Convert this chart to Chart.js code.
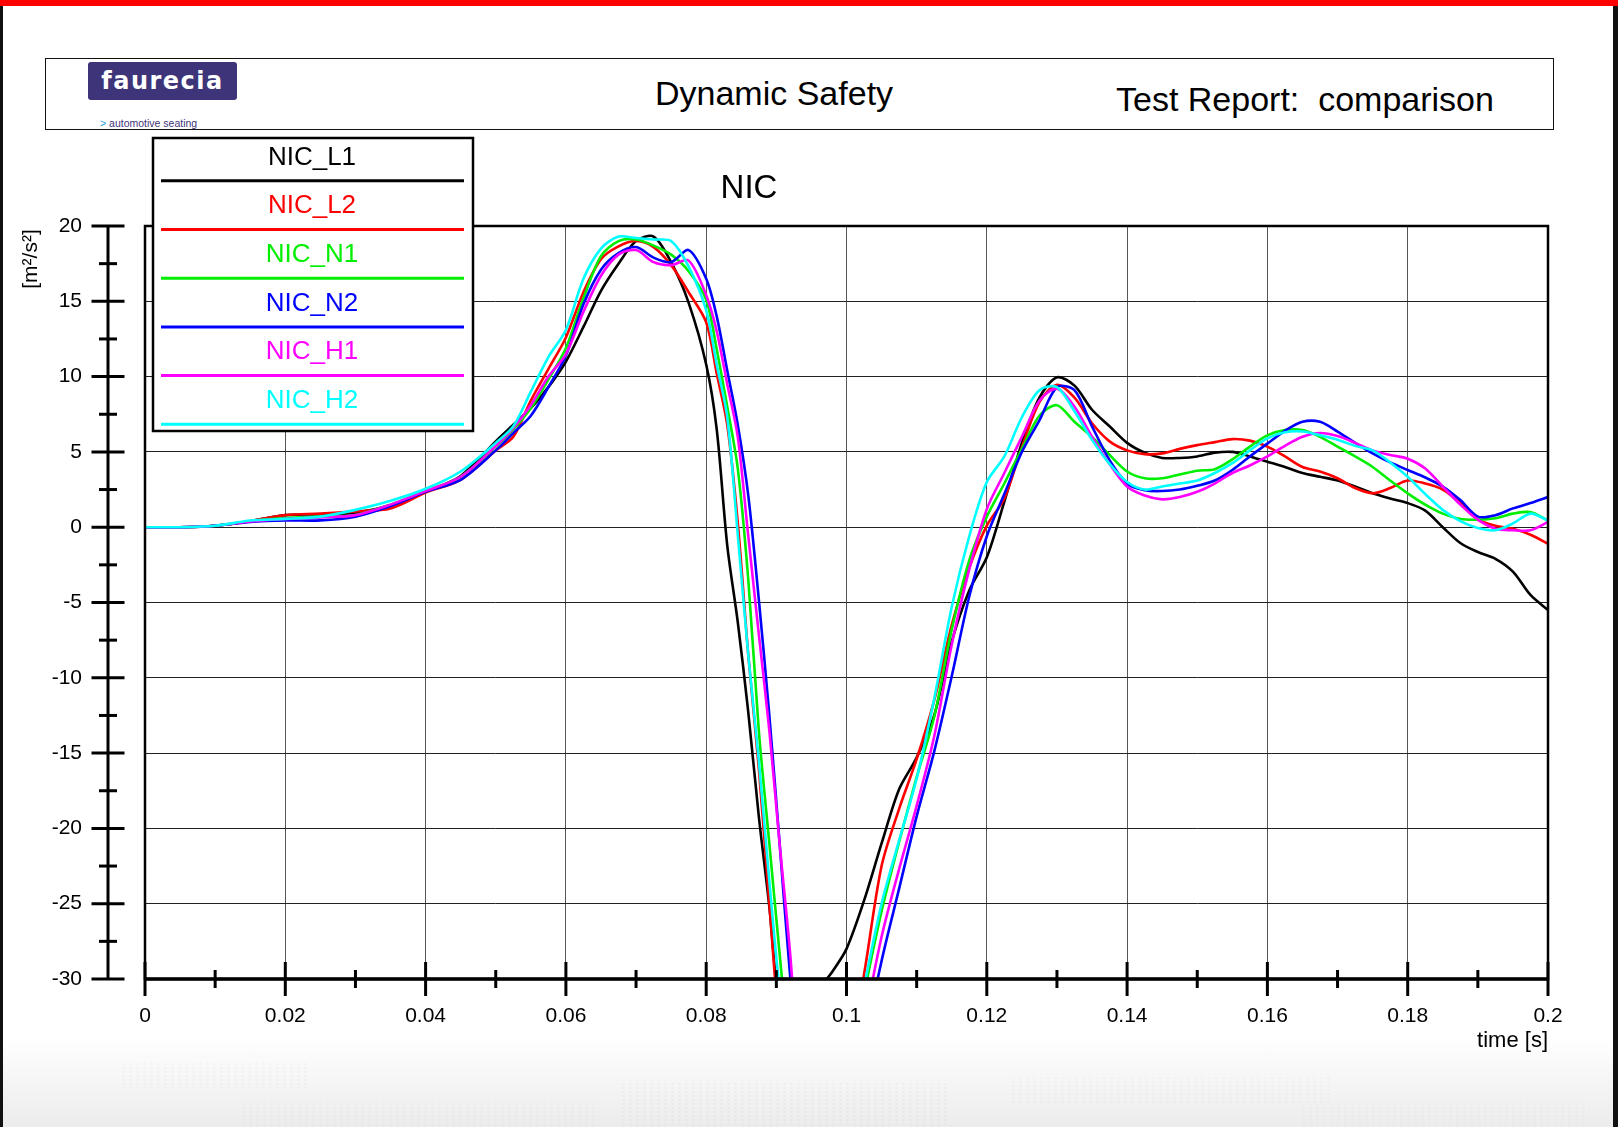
<!DOCTYPE html>
<html>
<head>
<meta charset="utf-8">
<title>NIC - Dynamic Safety</title>
<script src="https://cdn.jsdelivr.net/npm/chart.js@4.4.1/dist/chart.umd.min.js"></script>
<style>
  html, body { margin: 0; padding: 0; background: #fff; }
  #page { position: relative; width: 1618px; height: 1127px; overflow: hidden;
          font-family: "Liberation Sans", Arial, Helvetica, sans-serif; }
  #redbar { position: absolute; left: 0; top: 0; width: 1618px; height: 6px; background: #ff0000; z-index: 5; }
  #lborder { position: absolute; left: 0; top: 6px; width: 3px; height: 1121px; background: #111; z-index: 5; }
  #rborder { position: absolute; left: 1613px; top: 6px; width: 5px; height: 1121px; background: #111; z-index: 5; }
  #fade { position: absolute; left: 0; top: 1035px; width: 1618px; height: 92px;
          background: linear-gradient(to bottom, rgba(240,240,240,0), #ececec); }
  .dots { position: absolute; background-image: radial-gradient(circle, rgba(0,0,0,0.08) 1px, transparent 1.6px);
          background-size: 7px 4px; }
  #header { position: absolute; left: 45px; top: 58px; width: 1509px; height: 72px;
            border: 1.5px solid #111; box-sizing: border-box; background: #fff; }
  #logo { position: absolute; left: 88px; top: 62px; width: 149px; height: 38px; background: #3d3479;
          border-radius: 3px; color: #fff; font-family: "DejaVu Sans", Verdana, sans-serif; font-weight: bold;
          font-size: 24px; letter-spacing: 1.5px; line-height: 38px; text-align: center; }
  #tagline { position: absolute; left: 100px; top: 117px; font-size: 10.5px; color: #3d3479; white-space: pre; }
  #tagline b { color: #1a9ad6; font-weight: normal; }
  .htext { position: absolute; font-size: 34px; color: #000; line-height: 34px; white-space: pre; }
  #chart { position: absolute; left: 0; top: 0; z-index: 3; }
</style>
</head>
<body>
<div id="page">
  <div id="fade"></div>
  <div class="dots" style="left:120px; top:1062px; width:190px; height:26px; opacity:0.3;"></div>
  <div class="dots" style="left:240px; top:1102px; width:360px; height:25px; opacity:0.25;"></div>
  <div class="dots" style="left:620px; top:1082px; width:330px; height:45px; opacity:0.35;"></div>
  <div class="dots" style="left:1010px; top:1076px; width:320px; height:28px; opacity:0.25;"></div>
  <div class="dots" style="left:1300px; top:1102px; width:290px; height:25px; opacity:0.2;"></div>
  <div id="header"></div>
  <div id="logo">faurecia</div>
  <div id="tagline"><b>&gt;</b> automotive seating</div>
  <div class="htext" style="left:655px; top:76px;">Dynamic Safety</div>
  <div class="htext" style="left:1116px; top:82px;">Test Report:  comparison</div>
  <canvas id="chart" width="1618" height="1127"></canvas>
  <div id="redbar"></div>
  <div id="lborder"></div>
  <div id="rborder"></div>
</div>
<script>
// time [s]
const times = [0, 0.005, 0.01, 0.015, 0.02, 0.025, 0.03, 0.035, 0.04, 0.045,
  0.05, 0.0525, 0.055, 0.0575, 0.06, 0.0625, 0.065, 0.0675, 0.07, 0.0725,
  0.075, 0.0775, 0.08, 0.0815, 0.083, 0.0845, 0.086, 0.0875, 0.089, 0.0905,
  0.092, 0.0935, 0.095, 0.0965, 0.098, 0.1, 0.1025, 0.105, 0.1075, 0.11,
  0.1125, 0.115, 0.1175, 0.12, 0.1225, 0.125, 0.1275, 0.13, 0.1325, 0.135,
  0.1375, 0.14, 0.1425, 0.145, 0.1475, 0.15, 0.1525, 0.155, 0.1575, 0.16,
  0.1625, 0.165, 0.1675, 0.17, 0.1725, 0.175, 0.1775, 0.18, 0.1825, 0.185,
  0.1875, 0.19, 0.1925, 0.195, 0.1975, 0.2];

// NIC [m²/s²]
const nicL1 = [0, 0, 0.1, 0.4, 0.8, 0.85, 0.95, 1.45, 2.35, 3.4,
  5.7, 6.8, 7.9, 9.3, 11.0, 13.3, 15.7, 17.5, 19.0, 19.3,
  17.6, 14.9, 10.8, 6.5, -1.2, -6.3, -12.3, -19.2, -25.2, -32.5,
  -35, -35, -33, -30.5, -29.5, -28.0, -24.8, -21.0, -17.4, -15.3,
  -12.5, -7.6, -4.2, -2.0, 1.7, 5.6, 8.6, 9.95, 9.4, 7.8,
  6.7, 5.6, 4.95, 4.6, 4.6, 4.7, 4.95, 5.0, 4.7, 4.35,
  4.0, 3.6, 3.35, 3.1, 2.7, 2.25, 1.9, 1.6, 1.1, 0.0,
  -1.05, -1.65, -2.1, -2.95, -4.5, -5.5];

const nicL2 = [0, 0, 0.1, 0.4, 0.8, 0.9, 1.05, 1.25, 2.3, 3.15,
  5.1, 6.0, 8.4, 10.5, 12.6, 15.6, 17.8, 18.65, 19.0, 18.6,
  17.4, 15.6, 13.6, 10.2, 6.8, 0.3, -8.5, -16.0, -25.0, -34,
  -41, -43, -43, -42, -40, -36, -29.7, -22.5, -18.7, -15.4,
  -11.5, -6.5, -2.7, 0.1, 1.9, 5.3, 8.3, 9.45, 8.6, 6.9,
  5.7, 5.1, 4.85, 4.9, 5.2, 5.45, 5.65, 5.85, 5.75, 5.35,
  4.7, 4.0, 3.7, 3.25, 2.6, 2.25, 2.6, 3.1, 2.9, 2.5,
  1.6, 0.5, 0.1, -0.1, -0.5, -1.1];

const nicN1 = [0, 0, 0.1, 0.4, 0.6, 0.7, 0.8, 1.5, 2.4, 3.35,
  5.35, 6.5, 7.9, 9.8, 11.9, 15.2, 18.0, 19.0, 19.1, 18.7,
  18.1, 17.0, 15.1, 11.8, 8.0, 3.9, -3.5, -13.5, -21.0, -28.5,
  -35.5, -41, -44, -44, -41, -37, -31.0, -25.5, -20.9, -16.6,
  -12.6, -6.8, -2.2, 0.7, 2.9, 5.2, 7.4, 8.1, 7.0, 6.0,
  4.8, 3.7, 3.25, 3.25, 3.5, 3.75, 3.85, 4.5, 5.35, 6.1,
  6.45, 6.45, 6.0, 5.35, 4.7, 4.0, 3.1, 2.25, 1.5, 0.9,
  0.55, 0.5, 0.6, 0.9, 1.0, 0.45];

const nicN2 = [0, 0, 0.1, 0.35, 0.45, 0.45, 0.7, 1.4, 2.35, 3.15,
  5.1, 6.25, 7.4, 9.3, 11.4, 14.8, 17.1, 18.2, 18.6, 17.9,
  17.6, 18.4, 16.5, 14.0, 10.4, 6.8, 2.1, -4.8, -12.5, -21.2,
  -30, -37, -42, -45, -45, -41, -34.5, -28.8, -24.0, -19.2,
  -14.9, -9.9, -4.6, -0.6, 2.2, 5.0, 7.1, 9.3, 9.1, 6.7,
  4.45, 2.9, 2.45, 2.4, 2.5, 2.75, 3.1, 3.8, 4.7, 5.55,
  6.4, 7.0, 7.0, 6.35, 5.6, 4.9, 4.3, 3.8, 3.3, 2.7,
  1.8, 0.7, 0.8, 1.25, 1.6, 2.0];

const nicH1 = [0, 0, 0.1, 0.38, 0.55, 0.65, 0.8, 1.5, 2.4, 3.35,
  5.4, 6.6, 8.1, 10.0, 11.5, 14.3, 16.7, 18.1, 18.4, 17.6,
  17.4, 17.7, 15.4, 13.0, 9.5, 6.0, -0.6, -7.1, -13.5, -21.2,
  -28.5, -38, -44, -45, -43, -39, -33, -27.2, -22.7, -18.5,
  -13.9, -7.8, -2.8, 1.2, 3.6, 6.0, 8.4, 9.2, 8.0, 6.0,
  4.2, 2.7, 2.1, 1.85, 2.0, 2.35, 2.9, 3.6, 4.1, 4.7,
  5.4, 6.0, 6.25, 6.05, 5.6, 5.1, 4.8, 4.55, 3.9, 2.7,
  1.5, 0.5, -0.1, -0.2, -0.2, 0.35];

const nicH2 = [0, 0, 0.1, 0.44, 0.55, 0.7, 1.15, 1.75, 2.55, 3.7,
  5.6, 6.7, 9.0, 11.3, 13.1, 16.5, 18.5, 19.3, 19.2, 19.1,
  19.0, 17.3, 14.4, 10.8, 7.3, -0.5, -8.5, -15.5, -23.5, -31,
  -37, -42, -44, -43, -40, -36, -30.5, -25.0, -20.8, -16.7,
  -11.4, -5.3, -0.6, 3.0, 4.7, 7.3, 9.1, 9.3, 7.7, 5.8,
  4.2, 3.0, 2.5, 2.7, 2.9, 3.1, 3.6, 4.25, 5.1, 5.9,
  6.3, 6.35, 6.1, 5.8, 5.4, 5.1, 4.3, 3.35, 2.2, 1.15,
  0.4, -0.05, -0.2, 0.25, 0.9, 0.45];

const seriesNames = ['NIC_L1', 'NIC_L2', 'NIC_N1', 'NIC_N2', 'NIC_H1', 'NIC_H2'];
const seriesColors = ['#000000', '#ff0000', '#00ee00', '#0000ff', '#ff00ff', '#00ffff'];
const seriesValues = [nicL1, nicL2, nicN1, nicN2, nicH1, nicH2];

const FONT = '"Liberation Sans", Arial, Helvetica, sans-serif';
Chart.defaults.font.family = FONT;
Chart.defaults.color = '#000';

const isMajorX = v => Math.round(v * 100) % 2 === 0;
const isMajorY = v => Math.round(v * 10) % 50 === 0;

function line(ctx, x1, y1, x2, y2) {
  ctx.beginPath();
  ctx.moveTo(x1, y1);
  ctx.lineTo(x2, y2);
  ctx.stroke();
}

// frame, axis lines and tick marks
const axesPlugin = {
  id: 'axesPlugin',
  afterDatasetsDraw(chart) {
    const { ctx, chartArea: a, scales: { x, y } } = chart;
    ctx.save();
    ctx.strokeStyle = '#000';
    ctx.lineCap = 'butt';
    ctx.lineWidth = 2.5;
    ctx.strokeRect(a.left, a.top, a.right - a.left, a.bottom - a.top);
    ctx.lineWidth = 3.5;
    line(ctx, a.left, a.bottom, a.right, a.bottom);

    ctx.lineWidth = 3;
    x.ticks.forEach(t => {
      const px = x.getPixelForValue(t.value);
      const h = isMajorX(t.value) ? 17 : 9;
      line(ctx, px, a.bottom - h, px, a.bottom + h);
    });

    // detached y axis
    const ax = 108;
    line(ctx, ax, y.getPixelForValue(y.max), ax, y.getPixelForValue(y.min));
    y.ticks.forEach(t => {
      const py = y.getPixelForValue(t.value);
      const w = isMajorY(t.value) ? 16.5 : 9;
      line(ctx, ax - w, py, ax + w, py);
    });
    ctx.restore();
  },
  afterDraw(chart) {
    const { ctx } = chart;
    ctx.save();
    // legend box
    const box = { left: 153, top: 138, right: 473, bottom: 431 };
    ctx.fillStyle = '#fff';
    ctx.fillRect(box.left, box.top, box.right - box.left, box.bottom - box.top);
    ctx.strokeStyle = '#000';
    ctx.lineWidth = 2.5;
    ctx.strokeRect(box.left, box.top, box.right - box.left, box.bottom - box.top);
    ctx.textAlign = 'center';
    ctx.textBaseline = 'middle';
    ctx.font = '26px ' + FONT;
    chart.data.datasets.forEach((ds, i) => {
      const rowY = 157.5 + i * 48.7;
      ctx.fillStyle = ds.borderColor;
      ctx.fillText(ds.label, 312, rowY);
      ctx.strokeStyle = ds.borderColor;
      ctx.lineWidth = 3;
      line(ctx, 161, rowY + 23.3, 464, rowY + 23.3);
    });

    // title
    ctx.fillStyle = '#000';
    ctx.font = '33px ' + FONT;
    ctx.fillText('NIC', 749, 189);

    // axis titles
    ctx.font = '22px ' + FONT;
    ctx.textAlign = 'right';
    ctx.fillText('time [s]', 1548, 1041);
    ctx.translate(31, 259);
    ctx.rotate(-Math.PI / 2);
    ctx.textAlign = 'center';
    ctx.font = '21px ' + FONT;
    ctx.fillText('[m²/s²]', 0, 0);
    ctx.restore();
  }
};

const chart = new Chart(document.getElementById('chart'), {
  type: 'line',
  data: {
    datasets: seriesNames.map((name, i) => ({
      label: name,
      data: times.map((t, j) => ({ x: t, y: seriesValues[i][j] })),
      borderColor: seriesColors[i],
      backgroundColor: seriesColors[i],
      borderWidth: 2.6,
      pointRadius: 0,
      fill: false,
      tension: 0.3,
      order: seriesNames.length - i
    }))
  },
  options: {
    responsive: false,
    animation: false,
    events: [],
    layout: { padding: { top: 226, right: 70, bottom: 0, left: 0 } },
    plugins: {
      legend: { display: false },
      tooltip: { enabled: false },
      title: { display: false }
    },
    scales: {
      x: {
        type: 'linear',
        min: 0,
        max: 0.2,
        afterFit: s => { s.height = 148; },
        border: { display: false },
        grid: {
          drawTicks: false,
          lineWidth: 1,
          color: c => (c.tick && isMajorX(c.tick.value)) ? '#555' : 'rgba(0,0,0,0)'
        },
        ticks: {
          stepSize: 0.01,
          maxTicksLimit: 100,
          autoSkip: false,
          maxRotation: 0,
          padding: 25,
          font: { size: 21 },
          color: '#000',
          callback: v => isMajorX(v) ? String(Number(v.toFixed(2))) : ''
        }
      },
      y: {
        min: -30,
        max: 20,
        afterFit: s => { s.width = 145; },
        border: { display: false },
        grid: {
          drawTicks: false,
          lineWidth: 1,
          color: c => (c.tick && isMajorY(c.tick.value)) ? '#222' : 'rgba(0,0,0,0)'
        },
        ticks: {
          stepSize: 2.5,
          maxTicksLimit: 100,
          autoSkip: false,
          padding: 63,
          font: { size: 21 },
          color: '#000',
          callback: v => isMajorY(v) ? String(v) : ''
        }
      }
    }
  },
  plugins: [axesPlugin]
});
</script>
</body>
</html>
